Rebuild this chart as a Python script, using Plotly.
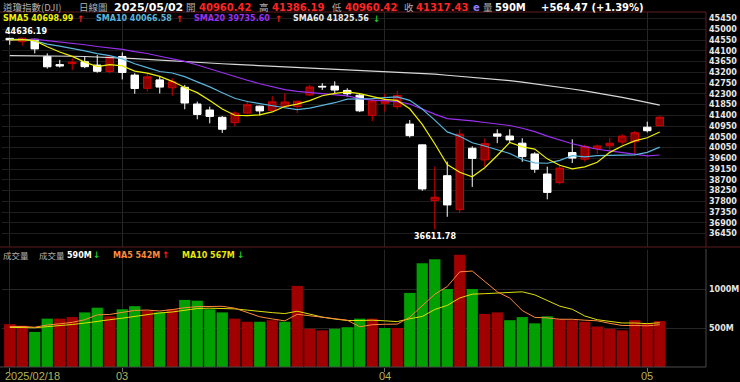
import plotly.graph_objects as go

# ---------------- data ----------------
dates = [
    "2025-02-18", "2025-02-19", "2025-02-20", "2025-02-21", "2025-02-24", "2025-02-25", "2025-02-26", "2025-02-27", "2025-02-28",
    "2025-03-03", "2025-03-04", "2025-03-05", "2025-03-06", "2025-03-07", "2025-03-10", "2025-03-11", "2025-03-12", "2025-03-13",
    "2025-03-14", "2025-03-17", "2025-03-18", "2025-03-19", "2025-03-20", "2025-03-21", "2025-03-24", "2025-03-25", "2025-03-26",
    "2025-03-27", "2025-03-28", "2025-03-31",
    "2025-04-01", "2025-04-02", "2025-04-03", "2025-04-04", "2025-04-07", "2025-04-08", "2025-04-09", "2025-04-10", "2025-04-11",
    "2025-04-14", "2025-04-15", "2025-04-16", "2025-04-17", "2025-04-21", "2025-04-22", "2025-04-23", "2025-04-24", "2025-04-25",
    "2025-04-28", "2025-04-29", "2025-04-30", "2025-05-01", "2025-05-02",
]
opens = [
    44620, 44480, 44580, 43860, 43520, 43560, 43640, 43500, 43230,
    43860, 43080, 42530, 42880, 42550, 42570, 41870, 41620, 41314,
    41090, 41490, 41780, 41600, 41760, 41760, 42250, 42610, 42620,
    42440, 42240, 41390,
    41900, 41760, 41030, 40160, 37830, 38870, 37450, 40020, 39530,
    40620, 40530, 40230, 39780, 38940, 38580, 39840, 39560, 40010,
    40120, 40280, 40290, 40900, 40960.42,
]
highs = [
    44636.19, 44630, 44600, 43990, 43720, 43780, 43850, 43920, 43880,
    44030, 43160, 43130, 43010, 42950, 42670, 41970, 41760, 41370,
    41560, 42010, 41800, 42200, 42320, 42010, 42680, 42740, 42820,
    42530, 42300, 42080,
    42300, 42430, 41200, 40170, 39250, 39460, 40810, 40100, 40430,
    40810, 40810, 40440, 39850, 39250, 39330, 40390, 40170, 40170,
    40460, 40600, 40740, 41130, 41386.19,
]
lows = [
    44350, 44320, 43990, 43350, 43400, 43290, 43370, 43180, 43150,
    42900, 42300, 42400, 42310, 42220, 41650, 41230, 41060, 40660,
    40950, 41450, 41400, 41560, 41730, 41490, 42200, 42460, 42330,
    42180, 41530, 41150,
    41550, 41650, 40470, 38240, 36611.78, 37150, 37320, 38400, 39250,
    40230, 40250, 39450, 38990, 37880, 38500, 39400, 39470, 39780,
    39950, 40160, 39760, 40680, 40960.42,
]
closes = [
    44556.34, 44627.59, 44176.65, 43428.02, 43461.21, 43621.16, 43433.12, 43239.50, 43840.91,
    43191.24, 42520.99, 43006.59, 42579.08, 42801.72, 41911.71, 41433.48, 41350.93, 40813.57,
    41488.19, 41841.63, 41581.31, 41964.63, 41953.32, 41985.35, 42583.32, 42587.50, 42454.79,
    42299.70, 41583.90, 42001.76,
    41989.96, 42225.32, 40545.93, 38314.86, 37965.60, 37645.59, 40608.45, 39593.66, 40212.71,
    40524.79, 40368.96, 39669.39, 39142.23, 38170.41, 39186.98, 39606.57, 40093.40, 40113.50,
    40227.59, 40527.62, 40669.36, 40752.96, 41317.43,
]
prev_close = 44546.08  # close before the first day shown

volumes_m = [
    550, 530, 450, 620, 620, 640, 700, 760, 650, 740,
    780, 720, 700, 740, 860, 850, 740, 700, 620, 580,
    580, 600, 580, 1040, 490, 470, 490, 510, 620, 620,
    500, 500, 950, 1330, 1380, 1000, 1440, 1000, 680, 700,
    600, 640, 560, 650, 610, 600, 580, 520, 490, 470,
    600, 560, 590,
]
vol_ma5 = [
    518, 520, 510, 538, 554, 572, 606, 668, 674, 698,
    726, 730, 718, 736, 760, 774, 778, 778, 754, 698,
    644, 616, 592, 676, 658, 636, 614, 600, 516, 542,
    548, 550, 638, 780, 932, 1032, 1220, 1230, 1100, 964,
    884, 724, 636, 630, 612, 612, 600, 592, 560, 532,
    532, 528, 542,
]
vol_ma10 = [
    508, 508, 503, 517, 528, 545, 563, 589, 606, 626,
    649, 668, 693, 705, 729, 750, 754, 748, 745, 729,
    709, 697, 685, 715, 678, 640, 615, 596, 596, 600,
    592, 582, 619, 648, 737, 790, 885, 934, 940, 948,
    958, 964, 925, 857, 780, 740, 654, 606, 587, 564,
    564, 556, 567,
]
sma5 = [
    44555, 44562, 44524, 44267, 44050, 43863, 43624, 43437, 43519, 43465,
    43245, 43160, 43028, 42820, 42564, 42347, 42015, 41662, 41400, 41386,
    41415, 41538, 41766, 41865, 42013, 42215, 42313, 42382, 42302, 42186,
    42066, 42020, 41669, 41016, 40208, 39340, 39016, 38826, 39205, 39717,
    40262, 40074, 39984, 39575, 39307, 39155, 39240, 39434, 39846, 40114,
    40326, 40458, 40698.99,
]
sma10 = [
    44573, 44580, 44510, 44378, 44294, 44209, 44093, 43980, 43893, 43758,
    43554, 43392, 43232, 43170, 43015, 42796, 42588, 42345, 42110, 41975,
    41881, 41777, 41714, 41632, 41700, 41815, 41925, 42074, 42084, 42100,
    42141, 42167, 42026, 41659, 41197, 40703, 40518, 40248, 40111, 39963,
    39801, 39545, 39405, 39390, 39512, 39708, 39657, 39709, 39710, 39711,
    39741, 39849, 40066.58,
]
sma20 = [
    44551, 44581, 44582, 44526, 44477, 44423, 44352, 44278, 44226, 44158,
    44063, 43986, 43871, 43774, 43654, 43503, 43340, 43163, 43001, 42866,
    42718, 42584, 42473, 42401, 42357, 42305, 42257, 42210, 42097, 42037,
    42011, 41972, 41870, 41646, 41448, 41259, 41222, 41161, 41097, 41031,
    40971, 40856, 40715, 40525, 40355, 40206, 40088, 39978, 39910, 39837,
    39771, 39697, 39735.60,
]
sma60 = [
    43893, 43895, 43893, 43885, 43878, 43870, 43860, 43845, 43825, 43800,
    43770, 43740, 43705, 43670, 43640, 43610, 43580, 43555, 43530, 43505,
    43480, 43455, 43430, 43410, 43385, 43360, 43335, 43315, 43295, 43275,
    43250, 43225, 43195, 43160, 43120, 43075, 43030, 42995, 42960, 42905,
    42850, 42790, 42725, 42655, 42580, 42500, 42420, 42335, 42245, 42150,
    42045, 41935, 41825.56,
]
price_ticks = [45450, 45000, 44550, 44100, 43650, 43200, 42750, 42300, 41850, 41400,
               40950, 40500, 40050, 39600, 39150, 38700, 38250, 37800, 37350, 36900, 36450]
vol_ticks = [500, 1000]
vol_tick_text = ["500M", "1000M"]
month_ticks = ["2025-03-03", "2025-04-01", "2025-05-01"]
month_labels = ["03", "04", "05"]

# ---------------- geometry helpers ----------------
W, H = 740, 382
ML, MR, MT, MB = 2, 34, 12, 15
PW = W - ML - MR
PH = H - MT - MB


def fx(px):
    return (px - ML) / PW


def fy(py):
    return (H - MB - py) / PH


PRICE_DOM = [fy(247), 1.0]
VOL_DOM = [0.0, fy(250)]

RED_UP = "#8c0000"
RED_WICK = "#d00000"
GRN = "#00a000"
VRED = "#a00000"
GREY = "#b0b0b0"
NUM = "DejaVu Sans"
CJK = "Noto Sans CJK TC"

prevs = [prev_close] + closes[:-1]
vol_colors = [VRED if c >= p else GRN for c, p in zip(closes, prevs)]

fig = go.Figure()

# volume
fig.add_trace(go.Bar(x=dates, y=volumes_m, marker=dict(color=vol_colors, line=dict(width=0)),
                     xaxis="x2", yaxis="y2", hoverinfo="skip"))
fig.add_trace(go.Scatter(x=dates, y=vol_ma10, mode="lines", line=dict(color="#e0e000", width=1),
                         xaxis="x2", yaxis="y2", hoverinfo="skip"))
fig.add_trace(go.Scatter(x=dates, y=vol_ma5, mode="lines", line=dict(color="#ff8a3c", width=1),
                         xaxis="x2", yaxis="y2", hoverinfo="skip"))

# candles
fig.add_trace(go.Candlestick(
    x=dates, open=opens, high=highs, low=lows, close=closes,
    increasing=dict(line=dict(color=RED_WICK, width=1), fillcolor=RED_UP),
    decreasing=dict(line=dict(color="#ffffff", width=1), fillcolor="#ffffff"),
    xaxis="x", yaxis="y", hoverinfo="skip"))

# moving averages
for series, col in [(sma60, "#d8d8d8"), (sma20, "#9a30f0"), (sma10, "#5ab4dc"), (sma5, "#f0f000")]:
    fig.add_trace(go.Scatter(x=dates, y=series, mode="lines", line=dict(color=col, width=1.2),
                             xaxis="x", yaxis="y", hoverinfo="skip"))

xr = [-0.62, 55.7]
tick_x = [dates[0]] + month_ticks

fig.update_layout(
    width=W, height=H,
    margin=dict(l=ML, r=MR, t=MT, b=MB, pad=0),
    paper_bgcolor="#000000", plot_bgcolor="#000000",
    showlegend=False, boxgap=0.14, bargap=0.1,
    xaxis=dict(domain=[0, 1], anchor="y", type="category", range=xr,
               rangeslider=dict(visible=False), showticklabels=False,
               tickvals=tick_x, showgrid=True, gridcolor="#262626", gridwidth=1,
               zeroline=False, showline=False, fixedrange=True),
    xaxis2=dict(domain=[0, 1], anchor="y2", type="category", range=xr, matches="x",
                showticklabels=False, tickvals=tick_x, showgrid=True, gridcolor="#262626",
                ticks="outside", ticklen=4, tickcolor="#707070",
                zeroline=False, showline=False),
    yaxis=dict(domain=PRICE_DOM, anchor="x", side="right", range=[35885, 45722],
               tickvals=price_ticks, ticktext=[str(v) for v in price_ticks],
               tickfont=dict(family=NUM, size=8, color="#e6e6e6", weight="bold"),
               showgrid=True, gridcolor="#1e1e1e", gridwidth=1, zeroline=False,
               ticks="", ticklabelstandoff=2),
    yaxis2=dict(domain=VOL_DOM, anchor="x2", side="right", range=[0, 1500],
                tickvals=vol_ticks, ticktext=vol_tick_text,
                tickfont=dict(family=NUM, size=8, color="#e6e6e6", weight="bold"),
                showgrid=True, gridcolor="#262626", gridwidth=1, zeroline=False,
                ticks="", ticklabelstandoff=2),
)

# frame lines
line_red = "#5c1c1c"
fig.add_shape(type="line", xref="paper", yref="paper", x0=fx(0), x1=1, y0=1, y1=1,
              line=dict(color=line_red, width=1))
fig.add_shape(type="line", xref="paper", yref="paper", x0=fx(0), x1=fx(740), y0=fy(247), y1=fy(247),
              line=dict(color=line_red, width=1))
fig.add_shape(type="line", xref="paper", yref="paper", x0=1, x1=1, y0=fy(247), y1=1,
              line=dict(color=line_red, width=1))
fig.add_shape(type="line", xref="paper", yref="paper", x0=1, x1=1, y0=0, y1=fy(249),
              line=dict(color="#4a4a4a", width=1))
fig.add_shape(type="line", xref="paper", yref="paper", x0=fx(0), x1=1, y0=0, y1=0,
              line=dict(color="#4a4a4a", width=1))


def txt(px, py, text, color, size, family=NUM, bold=True, anchor="left"):
    fig.add_annotation(x=fx(px), y=fy(py), xref="paper", yref="paper", text=text,
                       showarrow=False, xanchor=anchor, yanchor="middle", borderpad=0,
                       font=dict(family=family, size=size, color=color,
                                 weight="bold" if bold else "normal"))


def arrow(px, py, up):
    txt(px, py, "↑" if up else "↓", "#ff1a1a" if up else "#1ec81e", 9)


# title row
ty = 7
txt(2, ty, "道瓊指數(DJI)", GREY, 9.5, CJK, False)
txt(78, ty, "日線圖", GREY, 9.5, CJK, False)
txt(113, ty, dates[-1].replace("-", "/"), "#ffffff", 11)
RV = "#ff2424"
txt(185, ty, "開", GREY, 9.5, CJK, False)
txt(198, ty, f"{opens[-1]:.2f}", RV, 10)
txt(258, ty, "高", GREY, 9.5, CJK, False)
txt(271, ty, f"{highs[-1]:.2f}", RV, 10)
txt(331, ty, "低", GREY, 9.5, CJK, False)
txt(344, ty, f"{lows[-1]:.2f}", RV, 10)
txt(403, ty, "收", GREY, 9.5, CJK, False)
txt(415, ty, f"{closes[-1]:.2f}", RV, 10)
txt(472, ty, "e", "#8c7cff", 10)
txt(482, ty, "量", GREY, 9.5, CJK, False)
txt(494, ty, f"{volumes_m[-1]}M", "#ffffff", 10)
chg = closes[-1] - closes[-2]
txt(540, ty, f"+{chg:.2f} (+{chg / closes[-2] * 100:.2f}%)", "#ffffff", 10)

# MA legend row
ly = 19
txt(2, ly, f"SMA5 {sma5[-1]:.2f}", "#f0f000", 8)
arrow(76, ly, True)
txt(95, ly, f"SMA10 {sma10[-1]:.2f}", "#5ab4dc", 8)
arrow(175, ly, True)
txt(193, ly, f"SMA20 {sma20[-1]:.2f}", "#9a30f0", 8)
arrow(274, ly, True)
txt(292, ly, f"SMA60 {sma60[-1]:.2f}", "#e8e8e8", 8)
arrow(372, ly, False)

# volume legend row
vy = 255
txt(2, vy, "成交量", GREY, 8.5, CJK, False)
txt(38, vy, "成交量", GREY, 8.5, CJK, False)
txt(66, vy, f"{volumes_m[-1]}M", "#ffffff", 8)
arrow(92, vy, False)
txt(112, vy, f"MA5 {vol_ma5[-1]}M", "#ff8a3c", 8)
arrow(161, vy, True)
txt(181, vy, f"MA10 {vol_ma10[-1]}M", "#e8e800", 8)
arrow(236, vy, False)

# high / low markers
hi_i = max(range(len(highs)), key=lambda i: highs[i])
lo_i = min(range(len(lows)), key=lambda i: lows[i])
fig.add_annotation(x=fx(4), xref="paper", y=highs[hi_i], yref="y", text=f"{highs[hi_i]:.2f}",
                   showarrow=False, xanchor="left", yanchor="bottom", yshift=1, borderpad=0,
                   font=dict(family=NUM, size=8, color="#ffffff", weight="bold"))
fig.add_annotation(x=lo_i, xref="x", y=lows[lo_i], yref="y", text=f"{lows[lo_i]:.2f}",
                   showarrow=False, xanchor="center", yanchor="top", yshift=-1, borderpad=0,
                   font=dict(family=NUM, size=8, color="#ffffff", weight="bold"))

# x labels
XF = "Liberation Sans Narrow, Liberation Sans, sans-serif"
fig.add_annotation(x=fx(4), xref="paper", y=fy(376), yref="paper", text=dates[0].replace("-", "/"),
                   showarrow=False, xanchor="left", yanchor="middle", borderpad=0,
                   font=dict(family=XF, size=11, color="#b4b45a"))
for d, lab in zip(month_ticks, month_labels):
    fig.add_annotation(x=dates.index(d), xref="x", y=fy(376), yref="paper", text=lab,
                       showarrow=False, xanchor="center", yanchor="middle", borderpad=0,
                       font=dict(family=XF, size=11, color="#b4b45a"))

fig.write_html("out.html")
